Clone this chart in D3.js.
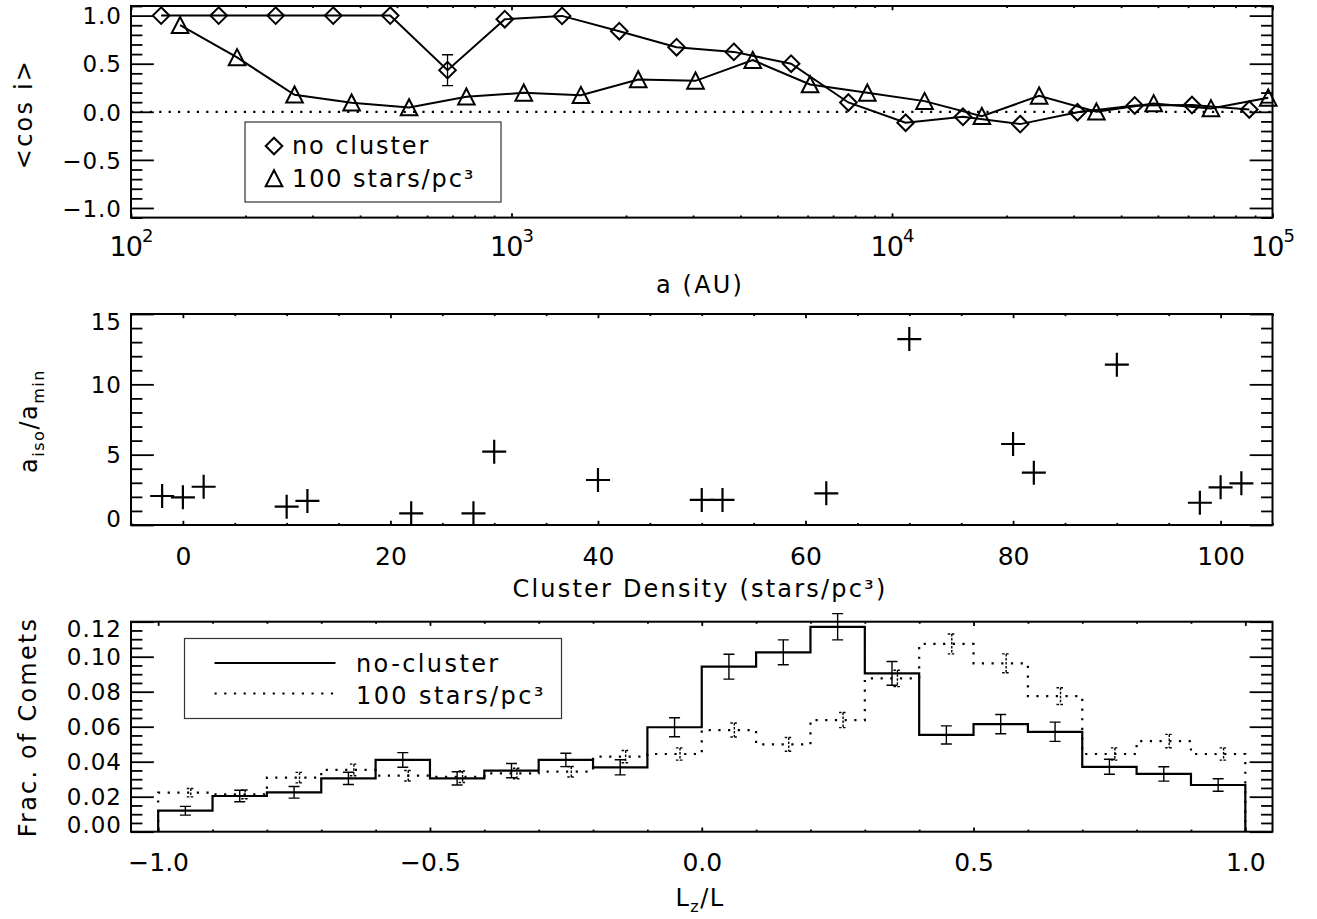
<!DOCTYPE html>
<html>
<head>
<meta charset="utf-8">
<script src="https://cdn.jsdelivr.net/npm/d3@7"></script>
<style>
  body { margin: 0; background: #fff; }
  text { font-family: "DejaVu Sans", sans-serif; fill: #000; }
</style>
</head>
<body>
<svg id="fig" width="1317" height="919"></svg>
<script>
// ---- Panel 1: mean cos(i) versus semi-major axis ----
const aNoCluster   = [120, 170, 240, 340, 480, 679, 960, 1358, 1920, 2715, 3840, 5431, 7680, 10861, 15360, 21722, 30720, 43445, 61440, 86890];
const cosNoCluster = [1.0, 1.0, 1.0, 1.0, 1.0, 0.433, 0.963, 0.997, 0.838, 0.672, 0.623, 0.50, 0.097, -0.114, -0.052, -0.128, -0.005, 0.066, 0.07, 0.024];
const errNoCluster = [0, 0, 0, 0, 0, 0.16, 0, 0, 0, 0, 0, 0, 0, 0, 0, 0, 0, 0, 0, 0];
const aCluster     = [134.6, 190, 269, 380, 538, 761, 1077, 1522, 2153, 3045, 4306, 6090, 8612, 12180, 17225, 24360, 34450, 48720, 68900, 97450];
const cosCluster   = [0.90, 0.565, 0.177, 0.094, 0.045, 0.156, 0.197, 0.173, 0.336, 0.322, 0.537, 0.284, 0.197, 0.111, -0.045, 0.166, 0.0, 0.087, 0.035, 0.145];
const logMajorTicks = [1e2, 1e3, 1e4, 1e5];
const cosTicks = [-1.0, -0.5, 0.0, 0.5, 1.0];

// ---- Panel 2: a_iso / a_min versus cluster density ----
const density = [-2, 0, 2, 10, 12, 22, 28, 30, 40, 50, 52, 62, 70, 80, 82, 90, 98, 100, 102];
const aRatio  = [2.06, 1.97, 2.72, 1.30, 1.71, 0.83, 0.83, 5.21, 3.2, 1.78, 1.78, 2.25, 13.22, 5.76, 3.72, 11.4, 1.58, 2.68, 2.96];
const densityTicks = [0, 20, 40, 60, 80, 100];
const ratioTicks = [0, 5, 10, 15];

// ---- Panel 3: distribution of Lz/L ----
const binLo = [-1.0, -0.9, -0.8, -0.7, -0.6, -0.5, -0.4, -0.3, -0.2, -0.1, 0.0, 0.1, 0.2, 0.3, 0.4, 0.5, 0.6, 0.7, 0.8, 0.9];
const binWidth = 0.1;
const fracNoCluster = [0.012, 0.0204, 0.0225, 0.0305, 0.041, 0.0305, 0.0349, 0.041, 0.0368, 0.0597, 0.0943, 0.1025, 0.1171, 0.0905, 0.0553, 0.0615, 0.0571, 0.0371, 0.033, 0.0267];
const fracNoClusterErr = [0.0025, 0.0033, 0.0033, 0.0035, 0.0042, 0.0038, 0.0041, 0.0038, 0.0043, 0.0054, 0.0071, 0.0071, 0.0075, 0.0068, 0.0052, 0.0055, 0.0055, 0.0043, 0.0041, 0.0036];
const frac100 = [0.0223, 0.0213, 0.0309, 0.0353, 0.032, 0.0314, 0.0333, 0.0343, 0.0429, 0.0444, 0.0581, 0.0499, 0.0638, 0.0876, 0.1073, 0.0962, 0.0775, 0.0444, 0.0518, 0.0444];
const frac100Err = [0.0024, 0.0025, 0.003, 0.0033, 0.003, 0.0033, 0.003, 0.003, 0.0035, 0.0035, 0.004, 0.0039, 0.0043, 0.0047, 0.0057, 0.0054, 0.0048, 0.0035, 0.0038, 0.0035];
const lzTicks = [-1.0, -0.5, 0.0, 0.5, 1.0];
const fracTicks = [0.00, 0.02, 0.04, 0.06, 0.08, 0.10, 0.12];

const svg = d3.select("#fig");
const X0 = 131, X1 = 1272.5;

// Draws a closed IDL-style frame: inward ticks on all four sides,
// labels on the bottom and left only.
function frame(x, y, cfg) {
  const [xa, xb] = x.range();
  const [yb, ya] = y.range();
  const xLen = 0.02 * (yb - ya), yLen = 0.02 * (xb - xa);
  const g = svg.append("g");
  const clean = sel => {
    sel.attr("font-size", null).attr("font-family", null);
    sel.select(".domain").remove();
    sel.selectAll("line").attr("stroke", "#000").attr("stroke-width", 1.8);
  };
  // bottom
  const bot = g.append("g").attr("transform", `translate(0,${yb})`)
    .call(d3.axisBottom(x).tickValues(cfg.xMajor).tickSize(-xLen).tickPadding(cfg.xPad).tickFormat(cfg.xFmt));
  clean(bot);
  bot.selectAll("text").attr("font-size", cfg.xFont).attr("letter-spacing", cfg.xLs || 0);
  g.append("g").attr("transform", `translate(0,${yb})`)
    .call(d3.axisBottom(x).tickValues(cfg.xMinor).tickSize(-xLen / 2).tickFormat(""))
    .call(clean);
  // top
  g.append("g").attr("transform", `translate(0,${ya})`)
    .call(d3.axisTop(x).tickValues(cfg.xMajor).tickSize(-xLen).tickFormat(""))
    .call(clean);
  g.append("g").attr("transform", `translate(0,${ya})`)
    .call(d3.axisTop(x).tickValues(cfg.xMinor).tickSize(-xLen / 2).tickFormat(""))
    .call(clean);
  // left; end labels are kept inside the frame
  const left = g.append("g").attr("transform", `translate(${xa},0)`)
    .call(d3.axisLeft(y).tickValues(cfg.yMajor).tickSize(-yLen).tickPadding(9).tickFormat(cfg.yFmt));
  clean(left);
  left.selectAll("text")
    .attr("font-size", 23).attr("letter-spacing", 1).attr("dy", "0.36em")
    .attr("y", d => {
      const c = y(d);
      const lo = ya + 7, hi = yb - 7;
      return Math.max(lo, Math.min(hi, c)) - c;
    });
  g.append("g").attr("transform", `translate(${xa},0)`)
    .call(d3.axisLeft(y).tickValues(cfg.yMinor).tickSize(-yLen / 2).tickFormat(""))
    .call(clean);
  // right
  g.append("g").attr("transform", `translate(${xb},0)`)
    .call(d3.axisRight(y).tickValues(cfg.yMajor).tickSize(-yLen).tickFormat(""))
    .call(clean);
  g.append("g").attr("transform", `translate(${xb},0)`)
    .call(d3.axisRight(y).tickValues(cfg.yMinor).tickSize(-yLen / 2).tickFormat(""))
    .call(clean);
  g.append("rect").attr("x", xa).attr("y", ya).attr("width", xb - xa).attr("height", yb - ya)
    .attr("fill", "none").attr("stroke", "#000").attr("stroke-width", 2);
  return bot;
}

const diamondPath = "M0,-8.3L8.3,0L0,8.3L-8.3,0Z";
const trianglePath = "M-8.3,7.8L0,-8.3L8.3,7.8Z";

// ================= Panel 1 =================
{
  const x = d3.scaleLog().domain([1e2, 1e5]).range([X0, X1]);
  const y = d3.scaleLinear().domain([-1.1, 1.1]).range([217.6, 6]);
  const minor = x.ticks().filter(v => !logMajorTicks.includes(v));
  const yMinor = d3.range(-11, 12).map(k => k / 10).filter(v => !cosTicks.some(t => Math.abs(t - v) < 1e-9));
  const bot = frame(x, y, {
    xMajor: logMajorTicks, xMinor: minor, xFmt: () => "10", xPad: 19, xFont: 27, xLs: -1,
    yMajor: cosTicks, yMinor: yMinor, yFmt: d3.format(".1f")
  });
  bot.selectAll(".tick text").append("tspan")
    .attr("dy", -14).attr("font-size", 18).attr("letter-spacing", 0)
    .text(d => Math.round(Math.log10(d)));

  // zero reference
  svg.append("line").attr("x1", X0).attr("x2", X1).attr("y1", y(0)).attr("y2", y(0))
    .attr("stroke", "#000").attr("stroke-width", 2.2).attr("stroke-dasharray", "2.2,7.2");

  const line = d3.line().x(d => x(d[0])).y(d => y(d[1]));
  const nc = aNoCluster.map((a, i) => [a, cosNoCluster[i], errNoCluster[i]]);
  const cl = aCluster.map((a, i) => [a, cosCluster[i]]);
  svg.append("path").attr("d", line(nc)).attr("fill", "none").attr("stroke", "#000").attr("stroke-width", 2);
  svg.append("path").attr("d", line(cl)).attr("fill", "none").attr("stroke", "#000").attr("stroke-width", 2);
  // error bars
  nc.filter(d => d[2] > 0).forEach(d => {
    const cx = x(d[0]), yTop = y(d[1] + d[2]), yBot = y(d[1] - d[2]);
    svg.append("path").attr("d", `M${cx},${yTop}V${yBot}M${cx - 5.5},${yTop}H${cx + 5.5}M${cx - 5.5},${yBot}H${cx + 5.5}`)
      .attr("stroke", "#000").attr("stroke-width", 1.3).attr("fill", "none");
  });
  svg.selectAll(".dmd").data(nc).join("path").attr("class", "dmd")
    .attr("d", diamondPath).attr("transform", d => `translate(${x(d[0])},${y(d[1])})`)
    .attr("fill", "none").attr("stroke", "#000").attr("stroke-width", 2);
  svg.selectAll(".tri").data(cl).join("path").attr("class", "tri")
    .attr("d", trianglePath).attr("transform", d => `translate(${x(d[0])},${y(d[1])})`)
    .attr("fill", "none").attr("stroke", "#000").attr("stroke-width", 2);

  // legend
  const lg = svg.append("g");
  lg.append("rect").attr("x", 245).attr("y", 122).attr("width", 256).attr("height", 80)
    .attr("fill", "none").attr("stroke", "#333").attr("stroke-width", 1.2);
  lg.append("path").attr("d", diamondPath).attr("transform", "translate(274,146)")
    .attr("fill", "none").attr("stroke", "#000").attr("stroke-width", 2);
  lg.append("path").attr("d", trianglePath).attr("transform", "translate(274,178.5)")
    .attr("fill", "none").attr("stroke", "#000").attr("stroke-width", 2);
  lg.append("text").attr("x", 292).attr("y", 154).attr("font-size", 24).attr("letter-spacing", 1.9).text("no cluster");
  lg.append("text").attr("x", 292).attr("y", 187).attr("font-size", 24).attr("letter-spacing", 1.9).text("100 stars/pc³");

  svg.append("text").attr("x", 700).attr("y", 293).attr("text-anchor", "middle")
    .attr("font-size", 24).attr("letter-spacing", 2.2).text("a (AU)");
  svg.append("text").attr("transform", "translate(32,114) rotate(-90)").attr("text-anchor", "middle")
    .attr("font-size", 24).attr("letter-spacing", 2.2).text("<cos i>");
}

// ================= Panel 2 =================
{
  const x = d3.scaleLinear().domain([-5, 105]).range([X0, X1]);
  const y = d3.scaleLinear().domain([0, 15]).range([525, 314]);
  frame(x, y, {
    xMajor: densityTicks, xMinor: d3.range(-5, 106, 5).filter(v => !densityTicks.includes(v)),
    xFmt: d3.format("d"), xPad: 22, xFont: 25,
    yMajor: ratioTicks, yMinor: d3.range(0, 16).filter(v => !ratioTicks.includes(v)), yFmt: d3.format("d")
  });
  const pts = density.map((d, i) => [d, aRatio[i]]);
  svg.selectAll(".plus").data(pts).join("path").attr("class", "plus")
    .attr("d", "M-12,0H12M0,-12V12")
    .attr("transform", d => `translate(${x(d[0])},${y(d[1])})`)
    .attr("stroke", "#000").attr("stroke-width", 2.2).attr("fill", "none");

  svg.append("text").attr("x", 700).attr("y", 597).attr("text-anchor", "middle")
    .attr("font-size", 24).attr("letter-spacing", 2.2).text("Cluster Density (stars/pc³)");
  const yt = svg.append("text").attr("transform", "translate(37,421) rotate(-90)").attr("text-anchor", "middle")
    .attr("font-size", 24).attr("letter-spacing", 1.5);
  yt.append("tspan").text("a");
  yt.append("tspan").attr("font-size", 16).attr("dy", 7).text("iso");
  yt.append("tspan").attr("dy", -7).text("/a");
  yt.append("tspan").attr("font-size", 16).attr("dy", 7).text("min");
}

// ================= Panel 3 =================
{
  const x = d3.scaleLinear().domain([-1.05, 1.05]).range([X0, X1]);
  const y = d3.scaleLinear().domain([0, 0.12]).range([831.7, 621.7]);
  frame(x, y, {
    xMajor: lzTicks, xMinor: d3.range(-10, 11).map(k => k / 10).filter(v => !lzTicks.some(t => Math.abs(t - v) < 1e-9)),
    xFmt: d3.format(".1f"), xPad: 22, xFont: 25,
    yMajor: fracTicks, yMinor: d3.range(0, 25).map(k => k * 0.005).filter(v => !fracTicks.some(t => Math.abs(t - v) < 1e-9)),
    yFmt: d3.format(".2f")
  });

  const step = d3.line().x(d => x(d[0])).y(d => y(d[1])).curve(d3.curveStepAfter);
  const histPts = vals => {
    const p = [[binLo[0], 0]];
    binLo.forEach((lo, i) => p.push([lo, vals[i]]));
    const end = binLo[binLo.length - 1] + binWidth;
    p.push([end, vals[vals.length - 1]]);
    p.push([end, 0]);
    return p;
  };
  svg.append("path").attr("d", step(histPts(frac100))).attr("fill", "none")
    .attr("stroke", "#000").attr("stroke-width", 2.2).attr("stroke-dasharray", "2.2,7.5");
  svg.append("path").attr("d", step(histPts(fracNoCluster))).attr("fill", "none")
    .attr("stroke", "#000").attr("stroke-width", 2.2);

  const errBars = (vals, errs, dx, cap, dash) => {
    binLo.forEach((lo, i) => {
      const cx = x(lo + binWidth / 2 + dx), t = y(vals[i] + errs[i]), b = y(vals[i] - errs[i]);
      svg.append("path").attr("d", `M${cx},${t}V${b}M${cx - cap},${t}H${cx + cap}M${cx - cap},${b}H${cx + cap}`)
        .attr("fill", "none").attr("stroke", "#000").attr("stroke-width", 1.4)
        .attr("stroke-dasharray", dash);
    });
  };
  errBars(fracNoCluster, fracNoClusterErr, 0, 5.5, null);
  errBars(frac100, frac100Err, 0.01, 4, "2.5,1.5");

  // legend
  const lg = svg.append("g");
  lg.append("rect").attr("x", 184.5).attr("y", 638.5).attr("width", 377).attr("height", 80)
    .attr("fill", "none").attr("stroke", "#333").attr("stroke-width", 1.2);
  lg.append("line").attr("x1", 214.5).attr("x2", 335.5).attr("y1", 663).attr("y2", 663)
    .attr("stroke", "#000").attr("stroke-width", 2.2);
  lg.append("line").attr("x1", 214.5).attr("x2", 335.5).attr("y1", 693.5).attr("y2", 693.5)
    .attr("stroke", "#000").attr("stroke-width", 2.2).attr("stroke-dasharray", "2.2,7.5");
  lg.append("text").attr("x", 356).attr("y", 672).attr("font-size", 24).attr("letter-spacing", 2.4).text("no-cluster");
  lg.append("text").attr("x", 356).attr("y", 703.5).attr("font-size", 24).attr("letter-spacing", 2.4).text("100 stars/pc³");

  const xt = svg.append("text").attr("x", 700).attr("y", 906).attr("text-anchor", "middle")
    .attr("font-size", 24).attr("letter-spacing", 1.5);
  xt.append("tspan").text("L");
  xt.append("tspan").attr("font-size", 16).attr("dy", 6).text("z");
  xt.append("tspan").attr("dy", -6).text("/L");
  svg.append("text").attr("transform", "translate(36,727) rotate(-90)").attr("text-anchor", "middle")
    .attr("font-size", 24).attr("letter-spacing", 2.2).text("Frac. of Comets");
}
</script>
</body>
</html>
